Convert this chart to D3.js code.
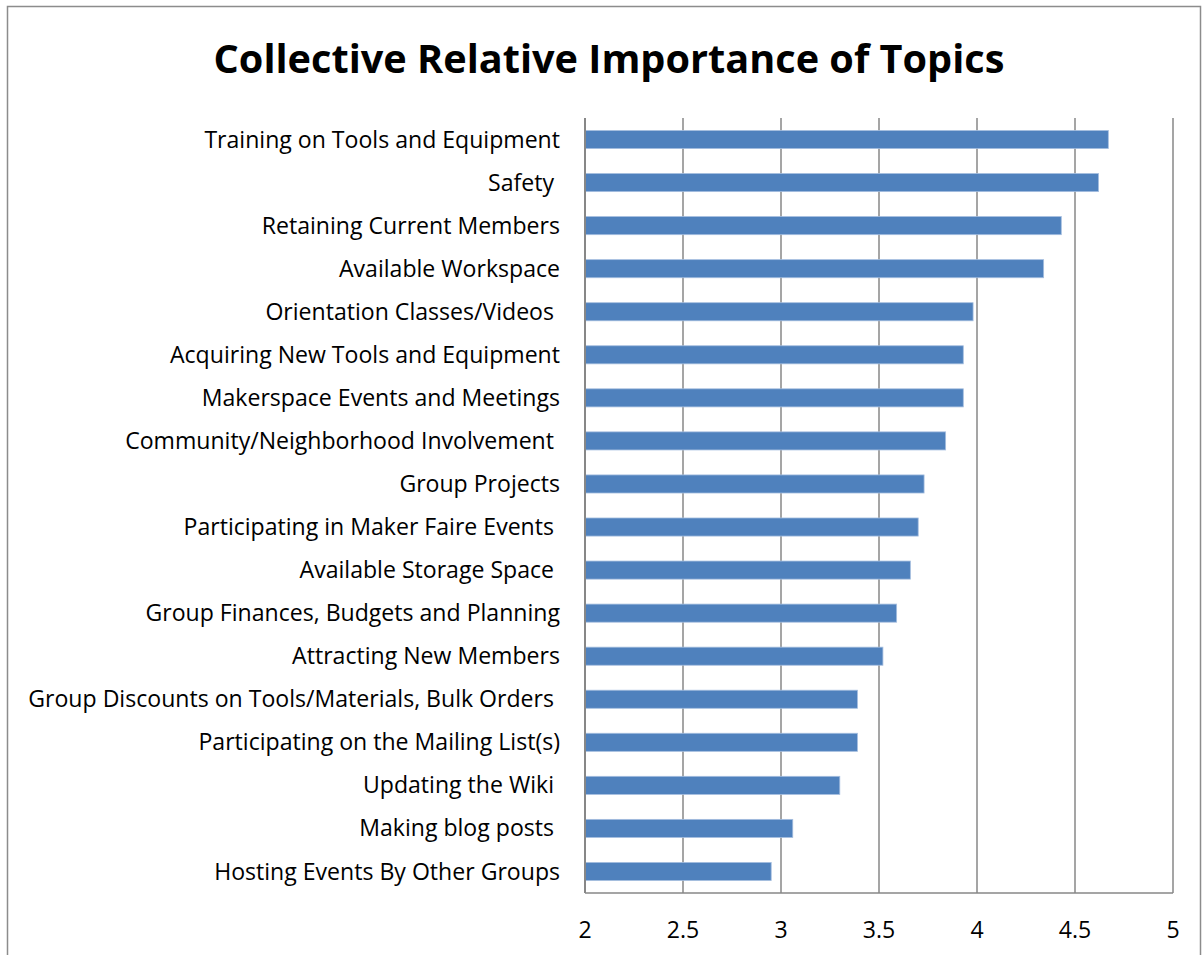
<!DOCTYPE html>
<html><head><meta charset="utf-8">
<script src="https://cdn.jsdelivr.net/npm/d3@7"></script>
<style>body{margin:0;background:#fff}svg{display:block}text{white-space:pre}</style>
</head><body>
<svg id="c" width="1203" height="955"></svg>
<script>
const categories = ["Training on Tools and Equipment","Safety ","Retaining Current Members","Available Workspace","Orientation Classes/Videos ","Acquiring New Tools and Equipment","Makerspace Events and Meetings","Community/Neighborhood Involvement ","Group Projects","Participating in Maker Faire Events ","Available Storage Space ","Group Finances, Budgets and Planning","Attracting New Members","Group Discounts on Tools/Materials, Bulk Orders ","Participating on the Mailing List(s)","Updating the Wiki ","Making blog posts ","Hosting Events By Other Groups"];
const values = [4.67,4.62,4.43,4.34,3.98,3.93,3.93,3.84,3.73,3.70,3.66,3.59,3.52,3.39,3.39,3.30,3.06,2.95];
const tickValues = [2,2.5,3,3.5,4,4.5,5];
const title = "Collective Relative Importance of Topics";

const svg = d3.select("#c");
const font = "'Open Sans', sans-serif";
svg.append("rect").attr("x",7.5).attr("y",6.5).attr("width",1193).attr("height",960)
  .attr("fill","#fff").attr("stroke","#8c8c8c").attr("stroke-width",1.5);

const L=585, R=1173, T=118, B=893;
const x = d3.scaleLinear().domain([2,5]).range([L,R]);
const y = d3.scaleBand().domain(categories).range([T,B]).paddingInner(0.58).paddingOuter(0.29);

const tt = svg.append("text").attr("x",609).attr("y",73).attr("text-anchor","middle")
  .attr("font-family",font).attr("font-weight","bold").attr("font-size",38).text(title);
// fit title width to the reference
const tw = tt.node().getComputedTextLength();
tt.attr("font-size", 38*791/tw);

svg.append("g").selectAll("line").data(tickValues.slice(1)).join("line")
  .attr("x1",d=>x(d)).attr("x2",d=>x(d)).attr("y1",T).attr("y2",B)
  .attr("stroke","#878787").attr("stroke-width",1.5);

svg.append("g").selectAll("rect").data(values).join("rect")
  .attr("x",x(2)).attr("y",(d,i)=>y(categories[i]))
  .attr("width",d=>x(d)-x(2)).attr("height",y.bandwidth())
  .attr("fill","#4f81bd").attr("stroke","#a5bedf").attr("stroke-width",0.8);

svg.append("line").attr("x1",L).attr("x2",L).attr("y1",T).attr("y2",B).attr("stroke","#878787").attr("stroke-width",2);
svg.append("line").attr("x1",L).attr("x2",R).attr("y1",B).attr("y2",B).attr("stroke","#878787").attr("stroke-width",1.5);

const labels = svg.append("g").selectAll("text").data(categories).join("text")
  .attr("x",560).attr("y",d=>y(d)+y.bandwidth()/2).attr("dy","0.35em")
  .attr("text-anchor","end").attr("font-family",font).attr("font-size",20).attr("fill","#000")
  .text(d=>d);
const lw = labels.nodes()[13].getComputedTextLength();
const ls = 20*532/lw;
labels.attr("font-size", ls);

svg.append("g").selectAll("text").data(tickValues).join("text")
  .attr("x",d=>x(d)).attr("y",930).attr("dy","0.35em").attr("text-anchor","middle")
  .attr("font-family",font).attr("font-size",ls).text(d=>d);
</script>
</body></html>
